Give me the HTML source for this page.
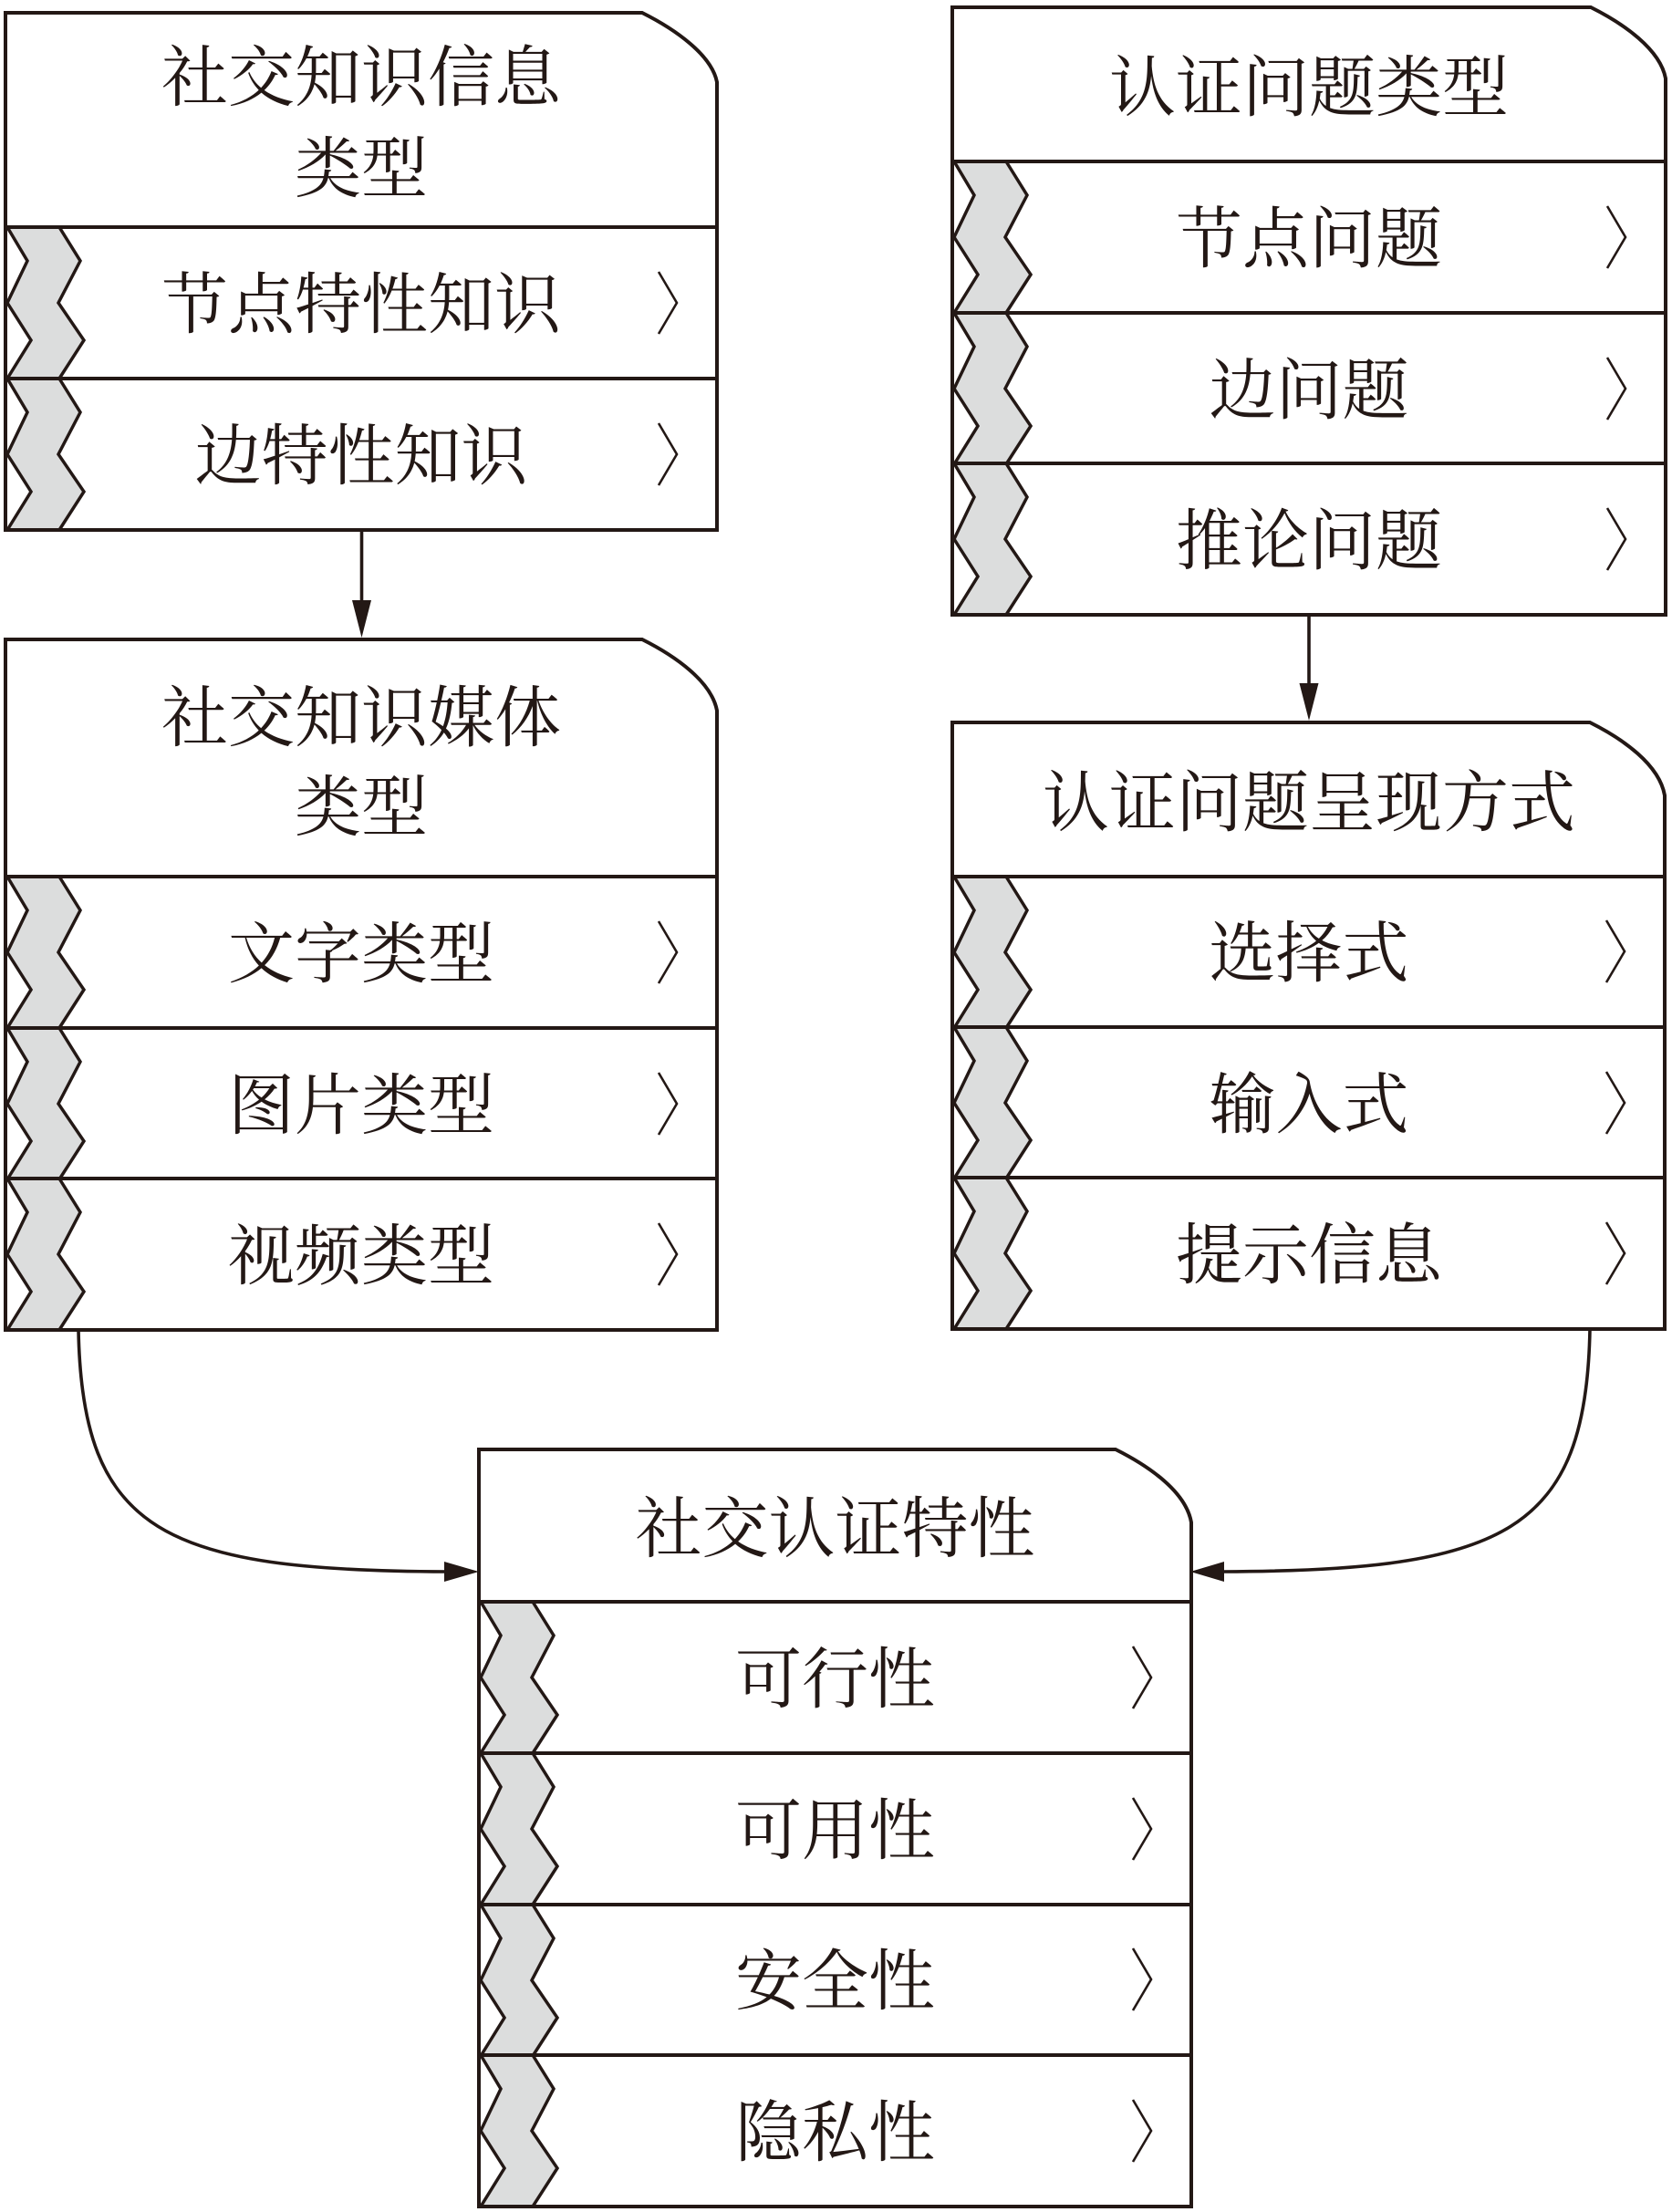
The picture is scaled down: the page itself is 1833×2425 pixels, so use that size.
<!DOCTYPE html>
<html>
<head>
<meta charset="utf-8">
<style>
html,body{margin:0;padding:0;background:#fff;}
svg{display:block;}
text{font-family:"Liberation Serif","Noto Serif CJK SC",serif;font-size:73px;fill:#231815;text-anchor:middle;}
</style>
</head>
<body>
<svg width="1833" height="2425" viewBox="0 0 1833 2425" xmlns="http://www.w3.org/2000/svg">
<defs>
  <g id="zz">
    <polygon points="2,0 24,37 2,83 28,124 2,166 59,166 86,124 58,83 82,37 59,0" fill="#dcdddd"/>
    <polyline points="2,0 24,37 2,83 28,124 2,166" fill="none" stroke="#231815" stroke-width="3.5" stroke-linejoin="miter"/>
    <polyline points="59,0 82,37 58,83 86,124 59,166" fill="none" stroke="#231815" stroke-width="3.5" stroke-linejoin="miter"/>
  </g>
  <polyline id="chev" points="-64,-34 -44,0 -64,34" fill="none" stroke="#231815" stroke-width="2.6"/>
</defs>

<g fill="#fff">
  <path d="M6,14 H704 C740,32 780,60 786,90 V581 H6 Z"/>
  <path d="M6,701 H704 C740,719 780,747 786,779 V1458 H6 Z"/>
  <path d="M1044,8 H1744 C1780,26 1820,54 1826,86 V674 H1044 Z"/>
  <path d="M1044,792 H1743 C1779,810 1819,838 1825,872 V1457 H1044 Z"/>
  <path d="M525,1589 H1223 C1259,1607 1300,1635 1306,1669 V2419 H525 Z"/>
</g>

<!-- zigzags -->
<use href="#zz" x="6" y="249"/>
<use href="#zz" x="6" y="415"/>
<use href="#zz" x="6" y="961"/>
<use href="#zz" x="6" y="1127"/>
<use href="#zz" x="6" y="1292"/>
<use href="#zz" x="1044" y="177"/>
<use href="#zz" x="1044" y="343"/>
<use href="#zz" x="1044" y="508"/>
<use href="#zz" x="1044" y="961"/>
<use href="#zz" x="1044" y="1126"/>
<use href="#zz" x="1044" y="1291"/>
<use href="#zz" x="525" y="1756"/>
<use href="#zz" x="525" y="1922"/>
<use href="#zz" x="525" y="2088"/>
<use href="#zz" x="525" y="2253"/>

<!-- chevrons -->
<use href="#chev" x="786" y="332"/>
<use href="#chev" x="786" y="498"/>
<use href="#chev" x="786" y="1044"/>
<use href="#chev" x="786" y="1210"/>
<use href="#chev" x="786" y="1375"/>
<use href="#chev" x="1826" y="260"/>
<use href="#chev" x="1826" y="426"/>
<use href="#chev" x="1826" y="591"/>
<use href="#chev" x="1825" y="1043"/>
<use href="#chev" x="1825" y="1209"/>
<use href="#chev" x="1825" y="1374"/>
<use href="#chev" x="1306" y="1839"/>
<use href="#chev" x="1306" y="2005"/>
<use href="#chev" x="1306" y="2170"/>
<use href="#chev" x="1306" y="2336"/>

<!-- box outlines and separators -->
<g fill="none" stroke="#231815" stroke-width="4" stroke-linejoin="miter">
  <path d="M6,14 H704 C740,32 780,60 786,90 V581 H6 Z"/>
  <path d="M6,249 H786 M6,415 H786"/>
  <path d="M6,701 H704 C740,719 780,747 786,779 V1458 H6 Z"/>
  <path d="M6,961 H786 M6,1127 H786 M6,1292 H786"/>
  <path d="M1044,8 H1744 C1780,26 1820,54 1826,86 V674 H1044 Z"/>
  <path d="M1044,177 H1826 M1044,343 H1826 M1044,508 H1826"/>
  <path d="M1044,792 H1743 C1779,810 1819,838 1825,872 V1457 H1044 Z"/>
  <path d="M1044,961 H1825 M1044,1126 H1825 M1044,1291 H1825"/>
  <path d="M525,1589 H1223 C1259,1607 1300,1635 1306,1669 V2419 H525 Z"/>
  <path d="M525,1756 H1306 M525,1922 H1306 M525,2088 H1306 M525,2253 H1306"/>
</g>

<!-- connectors -->
<g fill="none" stroke="#231815" stroke-width="3.6">
  <path d="M396.5,581 V662"/>
  <path d="M1435,674 V752"/>
  <path d="M86,1458 C90,1680 180,1722 490,1723"/>
  <path d="M1743,1457 C1739,1680 1650,1722 1340,1723"/>
</g>
<g fill="#231815">
  <polygon points="386,658 407,658 396.5,699"/>
  <polygon points="1424.5,749 1445.5,749 1435,790"/>
  <polygon points="487,1712 525,1723 487,1734"/>
  <polygon points="1342,1712 1305,1723 1342,1734"/>
</g>

<!-- text -->
<text x="396" y="110">社交知识信息</text>
<text x="396" y="210">类型</text>
<text x="396" y="359">节点特性知识</text>
<text x="396" y="525">边特性知识</text>

<text x="396" y="812">社交知识媒体</text>
<text x="396" y="910">类型</text>
<text x="396" y="1071">文字类型</text>
<text x="396" y="1237">图片类型</text>
<text x="396" y="1402">视频类型</text>

<text x="1435" y="121">认证问题类型</text>
<text x="1435" y="287">节点问题</text>
<text x="1435" y="453">边问题</text>
<text x="1435" y="618">推论问题</text>

<text x="1435" y="905">认证问题呈现方式</text>
<text x="1435" y="1070">选择式</text>
<text x="1435" y="1236">输入式</text>
<text x="1435" y="1401">提示信息</text>

<text x="915.5" y="1701">社交认证特性</text>
<text x="915.5" y="1866">可行性</text>
<text x="915.5" y="2032">可用性</text>
<text x="915.5" y="2197">安全性</text>
<text x="915.5" y="2363">隐私性</text>
</svg>
</body>
</html>
